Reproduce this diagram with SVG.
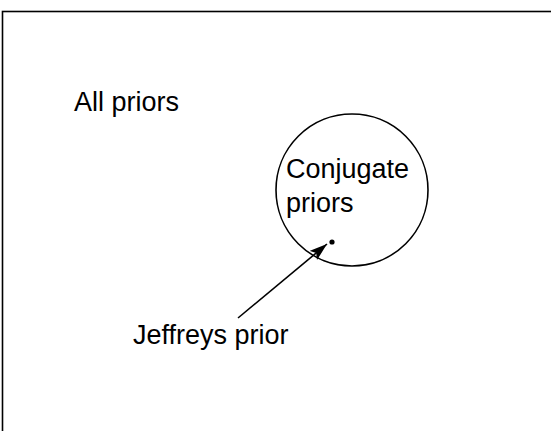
<svg xmlns="http://www.w3.org/2000/svg" width="551" height="431" viewBox="0 0 551 431">
<style>
text{font-family:"Liberation Sans",Arial,sans-serif;font-size:27px;fill:#000}
.ln{stroke:#000;stroke-width:1.6;fill:none}
</style>
<defs>
<marker id="ah" markerUnits="userSpaceOnUse" markerWidth="20" markerHeight="14" refX="18" refY="6" orient="auto">
<path d="M0,0 L18,6 L0,12 L4,6 Z" fill="#000"/>
</marker>
</defs>
<rect width="551" height="431" fill="#fff"/>
<g id="all-priors">
<rect class="ln" x="2.5" y="11.5" width="600" height="500" stroke-width="1.8"/>
<text x="74" y="111">All priors</text>
</g>
<g id="conjugate-priors">
<circle class="ln" cx="352" cy="190" r="76"/>
<text x="286" y="178">Conjugate</text>
<text x="286" y="212">priors</text>
</g>
<g id="jeffreys-prior">
<circle cx="332" cy="242" r="2.6" fill="#000"/>
<text x="133" y="344">Jeffreys prior</text>
</g>
<g id="connectors">
<line class="ln" x1="238" y1="318" x2="327" y2="244" marker-end="url(#ah)"/>
</g>
</svg>
